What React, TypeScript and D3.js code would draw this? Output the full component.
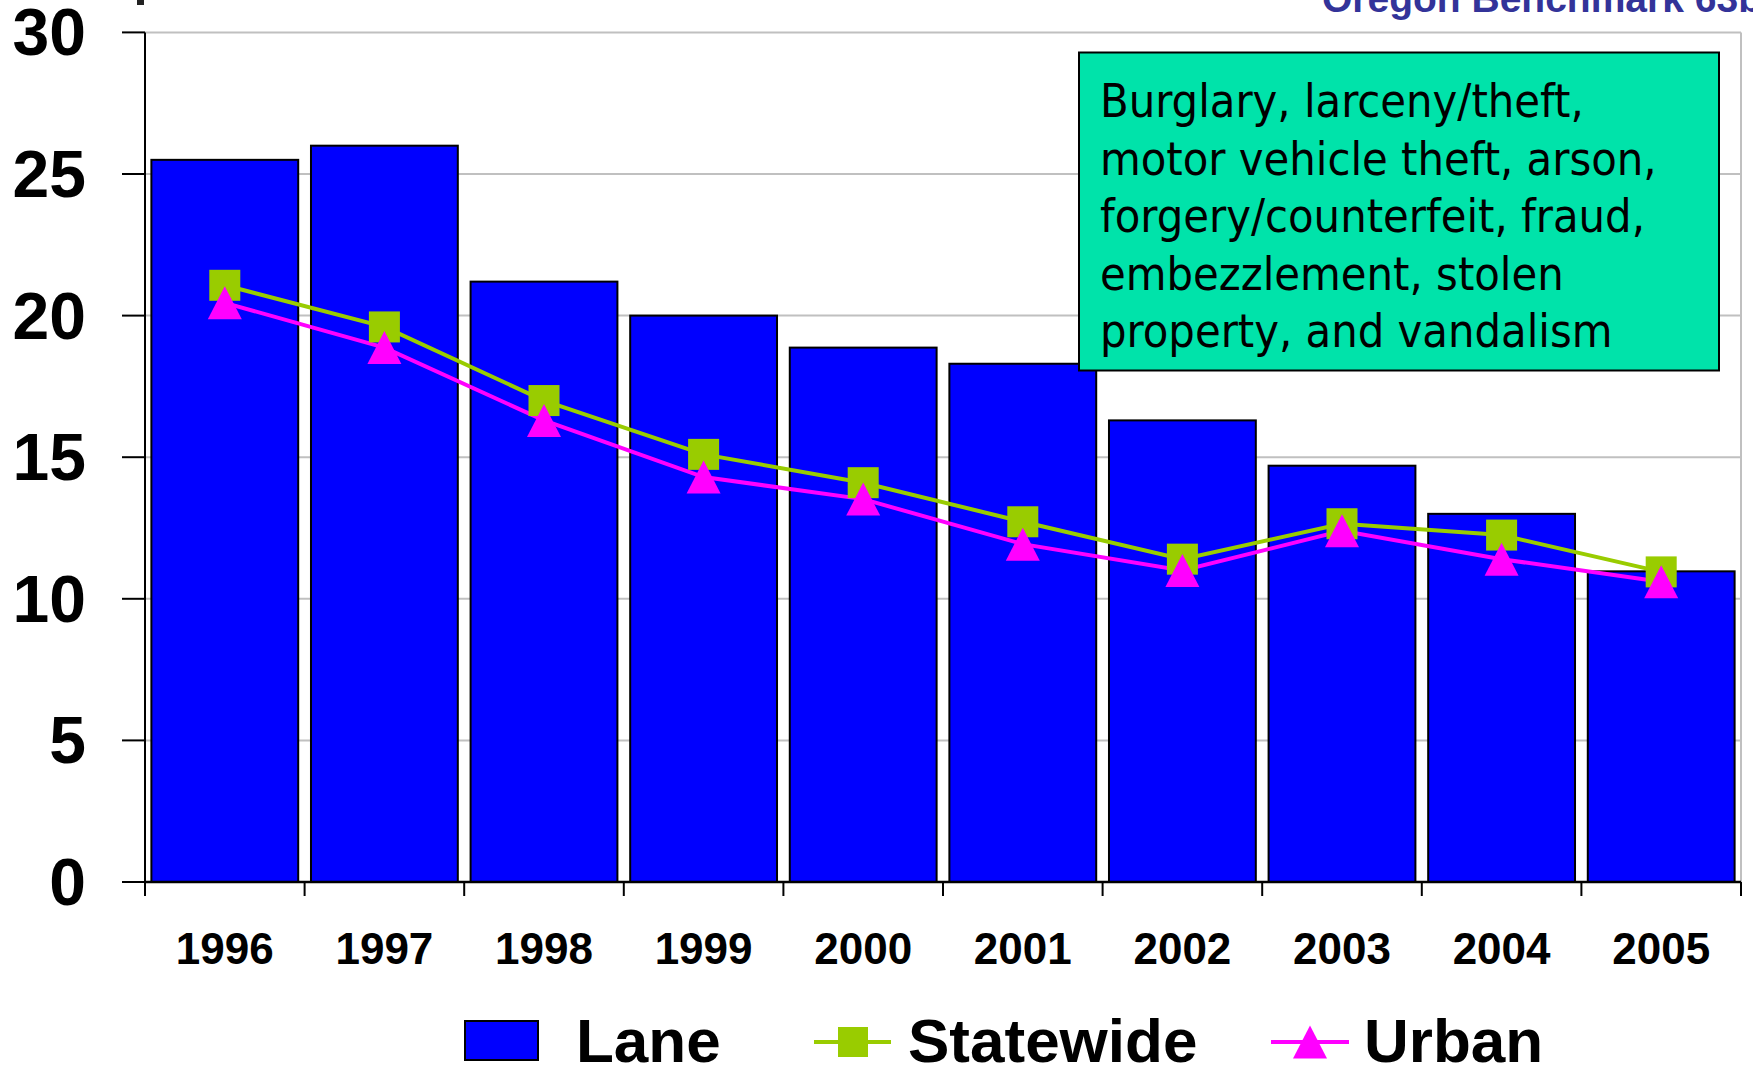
import React from 'react';
import * as d3 from 'd3';

const years = ['1996', '1997', '1998', '1999', '2000', '2001', '2002', '2003', '2004', '2005'];
const lane = [25.5, 26.0, 21.2, 20.0, 18.87, 18.3, 16.3, 14.7, 13.0, 10.97];
const statewide = [21.07, 19.6, 17.0, 15.1, 14.1, 12.72, 11.4, 12.65, 12.25, 10.95];
const urban = [20.45, 18.87, 16.3, 14.3, 13.52, 11.93, 11.0, 12.4, 11.4, 10.6];
const yTicks = [0, 5, 10, 15, 20, 25, 30];
const noteLines = [
  'Burglary, larceny/theft,',
  'motor vehicle theft, arson,',
  'forgery/counterfeit, fraud,',
  'embezzlement, stolen',
  'property, and vandalism',
];
const titleText = 'Oregon Benchmark 63b';

const W = 1753;
const H = 1070;
const left = 145;
const right = 1741;
const top = 32.4;
const bottom = 882;

const BAR = '#0000FF';
const GREEN = '#99CC00';
const PINK = '#FF00FF';
const GRID = '#C0C0C0';

export default function App() {
  const x = d3.scaleBand<string>().domain(years).range([left, right]).padding(0);
  const y = d3.scaleLinear().domain([0, 30]).range([bottom, top]);
  const bw = x.bandwidth();
  const barW = bw * 0.92;
  const cx = (i: number) => (x(years[i]) as number) + bw / 2;
  const line = d3
    .line<number>()
    .x((_, i) => cx(i))
    .y((d) => y(d));
  const tri = 'M0,-16.5L17,16.5L-17,16.5Z';
  const sq = 31;

  const font = "'Liberation Sans', Arial, sans-serif";

  return (
    <svg
      width={W}
      height={H}
      style={{ position: 'fixed', left: 0, top: 0, background: '#fff' }}
    >
      <rect x={0} y={0} width={W} height={H} fill="#fff" />
      {/* title (clipped at top) */}
      <text x={1322} y={12} fontFamily={font} fontWeight="bold" fontSize={39} fill="#333399">
        {titleText}
      </text>
      <rect x={137} y={0} width={7} height={5} fill="#222" />

      {/* gridlines */}
      {yTicks.map((t) => (
        <line key={'g' + t} x1={left} x2={right} y1={y(t)} y2={y(t)} stroke={GRID} strokeWidth={2} />
      ))}
      <line x1={right} x2={right} y1={top} y2={bottom} stroke={GRID} strokeWidth={2} />

      {/* bars */}
      {lane.map((v, i) => (
        <rect
          key={'b' + i}
          x={cx(i) - barW / 2}
          y={y(v)}
          width={barW}
          height={bottom - y(v)}
          fill={BAR}
          stroke="#000"
          strokeWidth={2}
        />
      ))}

      {/* axes */}
      <line x1={left} x2={left} y1={top} y2={bottom} stroke="#000" strokeWidth={2} />
      <line x1={left} x2={right} y1={bottom} y2={bottom} stroke="#000" strokeWidth={2.5} />
      {yTicks.map((t) => (
        <g key={'yt' + t}>
          <line x1={left - 23} x2={left} y1={y(t)} y2={y(t)} stroke="#000" strokeWidth={2} />
          <text
            x={86}
            y={y(t)}
            textAnchor="end"
            dominantBaseline="central"
            fontFamily={font}
            fontWeight="bold"
            fontSize={66}
            fill="#000"
          >
            {t}
          </text>
        </g>
      ))}
      {[...years.map((yr) => x(yr) as number), right].map((px, i) => (
        <line key={'xt' + i} x1={px} x2={px} y1={bottom} y2={bottom + 14} stroke="#000" strokeWidth={2} />
      ))}
      {years.map((yr, i) => (
        <text
          key={'xl' + yr}
          x={cx(i)}
          y={964}
          textAnchor="middle"
          fontFamily={font}
          fontWeight="bold"
          fontSize={44}
          fill="#000"
        >
          {yr}
        </text>
      ))}

      {/* lines */}
      <path d={line(statewide) as string} fill="none" stroke={GREEN} strokeWidth={4} />
      <path d={line(urban) as string} fill="none" stroke={PINK} strokeWidth={4} />
      {statewide.map((v, i) => (
        <rect key={'s' + i} x={cx(i) - sq / 2} y={y(v) - sq / 2} width={sq} height={sq} fill={GREEN} />
      ))}
      {urban.map((v, i) => (
        <path key={'u' + i} d={tri} transform={`translate(${cx(i)},${y(v)})`} fill={PINK} />
      ))}

      {/* annotation box */}
      <rect x={1079} y={52.5} width={640} height={318} fill="#00E3AA" stroke="#000" strokeWidth={2} />
      {noteLines.map((l, i) => (
        <text
          key={'n' + i}
          x={1100}
          y={117 + i * 57.6}
          fontFamily="'DejaVu Sans Condensed', 'DejaVu Sans', sans-serif"
          fontSize={46.5}
          fill="#000"
        >
          {l}
        </text>
      ))}

      {/* legend */}
      <rect x={465} y={1021} width={73} height={39} fill={BAR} stroke="#000" strokeWidth={2} />
      <text x={576} y={1062} fontFamily={font} fontWeight="bold" fontSize={62} fill="#000">
        Lane
      </text>
      <line x1={814} x2={891} y1={1042} y2={1042} stroke={GREEN} strokeWidth={4} />
      <rect x={853 - 15} y={1042 - 15} width={30} height={30} fill={GREEN} />
      <text x={908} y={1062} fontFamily={font} fontWeight="bold" fontSize={62} fill="#000">
        Statewide
      </text>
      <line x1={1271} x2={1349} y1={1042} y2={1042} stroke={PINK} strokeWidth={4} />
      <path d={tri} transform="translate(1310,1042)" fill={PINK} />
      <text x={1364} y={1062} fontFamily={font} fontWeight="bold" fontSize={62} fill="#000">
        Urban
      </text>
    </svg>
  );
}
